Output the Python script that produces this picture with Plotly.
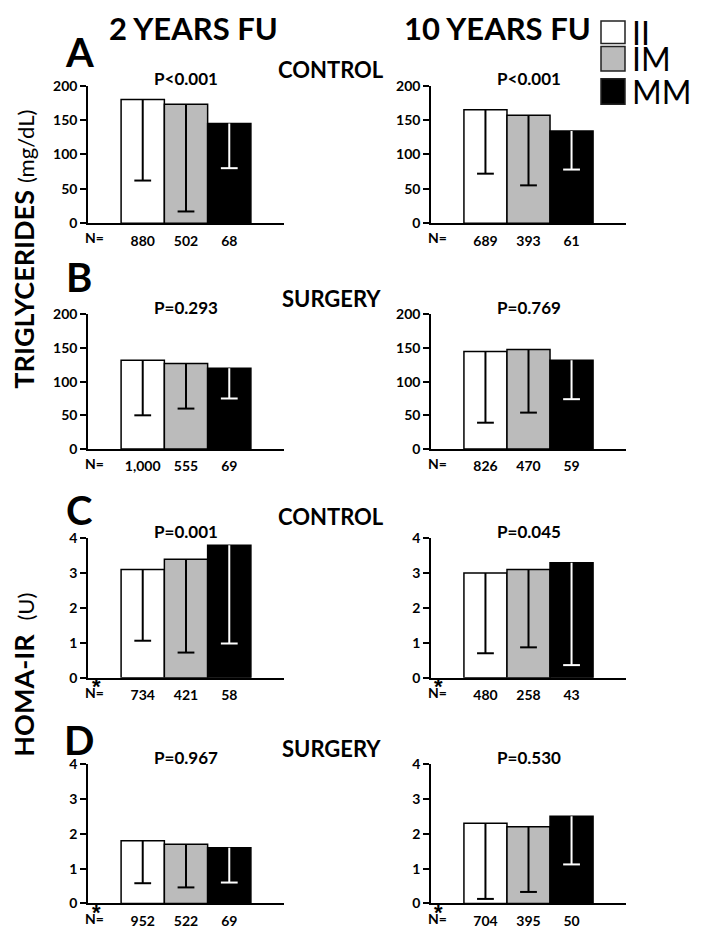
import plotly.graph_objects as go

# ---------------- data ----------------
groups = ["II", "IM", "MM"]

tg_2y_control_mean = [180, 173, 145]
tg_2y_control_low = [62, 17, 80]
tg_2y_control_n = ["880", "502", "68"]
tg_2y_control_p = "P<0.001"

tg_10y_control_mean = [165, 157, 134]
tg_10y_control_low = [72, 55, 78]
tg_10y_control_n = ["689", "393", "61"]
tg_10y_control_p = "P<0.001"

tg_2y_surgery_mean = [132, 127, 120]
tg_2y_surgery_low = [50, 60, 75]
tg_2y_surgery_n = ["1,000", "555", "69"]
tg_2y_surgery_p = "P=0.293"

tg_10y_surgery_mean = [145, 148, 132]
tg_10y_surgery_low = [39, 54, 74]
tg_10y_surgery_n = ["826", "470", "59"]
tg_10y_surgery_p = "P=0.769"

homa_2y_control_mean = [3.1, 3.4, 3.8]
homa_2y_control_low = [1.06, 0.72, 0.98]
homa_2y_control_n = ["734", "421", "58"]
homa_2y_control_p = "P=0.001"

homa_10y_control_mean = [3.0, 3.1, 3.3]
homa_10y_control_low = [0.70, 0.87, 0.36]
homa_10y_control_n = ["480", "258", "43"]
homa_10y_control_p = "P=0.045"

homa_2y_surgery_mean = [1.8, 1.7, 1.6]
homa_2y_surgery_low = [0.58, 0.46, 0.60]
homa_2y_surgery_n = ["952", "522", "69"]
homa_2y_surgery_p = "P=0.967"

homa_10y_surgery_mean = [2.3, 2.2, 2.5]
homa_10y_surgery_low = [0.13, 0.33, 1.12]
homa_10y_surgery_n = ["704", "395", "50"]
homa_10y_surgery_p = "P=0.530"

tg_ticks = [0, 50, 100, 150, 200]
homa_ticks = [0, 1, 2, 3, 4]

# ---------------- styling ----------------
OFF = 8  # page body margin
W, H = 704 - OFF, 935 - OFF
FONT = "Lato"
bar_colors = ["#FFFFFF", "#BBBBBB", "#000000"]
err_colors = ["#000000", "#000000", "#FFFFFF"]


def px_x(x):
    return (x - OFF) / W


def px_y(y):
    return 1 - (y - OFF) / H


LEFT = (88, 284)
RIGHT = (431, 626)
ROWS = {"A": (78, 218), "B": (311, 448), "C": (539, 681), "D": (769, 911)}

panels = [
    ("A", LEFT, tg_2y_control_mean, tg_2y_control_low, tg_2y_control_n, tg_2y_control_p, tg_ticks, False),
    ("A", RIGHT, tg_10y_control_mean, tg_10y_control_low, tg_10y_control_n, tg_10y_control_p, tg_ticks, False),
    ("B", LEFT, tg_2y_surgery_mean, tg_2y_surgery_low, tg_2y_surgery_n, tg_2y_surgery_p, tg_ticks, False),
    ("B", RIGHT, tg_10y_surgery_mean, tg_10y_surgery_low, tg_10y_surgery_n, tg_10y_surgery_p, tg_ticks, False),
    ("C", LEFT, homa_2y_control_mean, homa_2y_control_low, homa_2y_control_n, homa_2y_control_p, homa_ticks, True),
    ("C", RIGHT, homa_10y_control_mean, homa_10y_control_low, homa_10y_control_n, homa_10y_control_p, homa_ticks, True),
    ("D", LEFT, homa_2y_surgery_mean, homa_2y_surgery_low, homa_2y_surgery_n, homa_2y_surgery_p, homa_ticks, True),
    ("D", RIGHT, homa_10y_surgery_mean, homa_10y_surgery_low, homa_10y_surgery_n, homa_10y_surgery_p, homa_ticks, True),
]

fig = go.Figure()
layout = dict(
    width=W, height=H, margin=dict(l=0, r=0, t=0, b=0),
    paper_bgcolor="white", plot_bgcolor="white", showlegend=False,
    font=dict(family=FONT, color="black"),
)
annotations = []
shapes = []

xpos = list(range(len(groups)))

for k, (row, (x0, x1), mean, low, n, p, ticks, star) in enumerate(panels):
    idx = "" if k == 0 else str(k + 1)
    xa, ya = "x" + idx, "y" + idx
    ytop, ybot = ROWS[row]
    layout["xaxis" + idx] = dict(
        domain=[px_x(x0), px_x(x1)], anchor=ya, range=[-1.265, 3.265],
        showgrid=False, zeroline=False, showline=True, linecolor="black", linewidth=1.5,
        tickmode="array", tickvals=xpos, ticktext=n,
        ticks="outside", ticklen=4, tickcolor="rgba(0,0,0,0)",
        tickfont=dict(family=FONT, size=14, color="black", weight="bold"),
    )
    layout["yaxis" + idx] = dict(
        domain=[px_y(ybot), px_y(ytop)], anchor=xa, range=[ticks[0], ticks[-1]],
        tickmode="array", tickvals=ticks,
        showgrid=False, zeroline=False, showline=True, linecolor="black", linewidth=1.5,
        ticks="outside", ticklen=6, tickwidth=1.5, tickcolor="black",
        tickfont=dict(family=FONT, size=14, color="black", weight="bold"),
    )
    fig.add_trace(go.Bar(
        x=xpos, y=mean, width=1, xaxis=xa, yaxis=ya,
        marker=dict(color=bar_colors, line=dict(color="black", width=1.5)),
        hoverinfo="skip",
    ))
    for i in xpos:
        fig.add_trace(go.Scatter(
            x=[i], y=[low[i]], xaxis=xa, yaxis=ya, mode="markers",
            marker=dict(symbol="line-ew", size=12, color=err_colors[i],
                        line=dict(width=2, color=err_colors[i])),
            error_y=dict(type="data", symmetric=False, array=[mean[i] - low[i]],
                         arrayminus=[0], width=0, thickness=2, color=err_colors[i]),
            hoverinfo="skip", cliponaxis=False,
        ))
    # P value above bars
    annotations.append(dict(
        text=p, xref=xa, x=1, yref="paper", y=px_y(ytop - 7),
        showarrow=False, xanchor="center", yanchor="middle",
        font=dict(family=FONT, size=17, color="black", weight="bold"),
    ))
    # N= label
    annotations.append(dict(
        text="N=", xref="paper", x=px_x(x0 + 6), yref="paper", y=px_y(ybot + 15),
        showarrow=False, xanchor="center", yanchor="middle",
        font=dict(family=FONT, size=14, color="black", weight="bold"),
    ))
    if star:
        annotations.append(dict(
            text="<b>*</b>", xref="paper", x=px_x(x0 + 8), yref="paper", y=px_y(ybot + 9),
            showarrow=False, xanchor="center", yanchor="middle",
            font=dict(family="Liberation Sans", size=22, color="#000000"),
        ))

# panel letters and group titles
letters = {"A": 44, "B": 273, "C": 510, "D": 745}
titles = {"A": ("CONTROL", 61), "B": ("SURGERY", 295), "C": ("CONTROL", 517), "D": ("SURGERY", 753)}
for r, yl in letters.items():
    annotations.append(dict(
        text=r, xref="paper", x=px_x(79), yref="paper", y=px_y(yl),
        showarrow=False, xanchor="center", yanchor="middle",
        font=dict(family=FONT, size=40, color="black", weight="bold"),
    ))
    t, yt = titles[r]
    annotations.append(dict(
        text=t, xref="paper", x=px_x(331), yref="paper", y=px_y(yt),
        showarrow=False, xanchor="center", yanchor="middle",
        font=dict(family=FONT, size=22, color="black", weight="bold"),
    ))

# column headers
for t, xc in [("2 YEARS FU", 193), ("10 YEARS FU", 498)]:
    annotations.append(dict(
        text=t, xref="paper", x=px_x(xc), yref="paper", y=px_y(19),
        showarrow=False, xanchor="center", yanchor="middle",
        font=dict(family=FONT, size=31, color="black", weight="bold"),
    ))

# y titles
annotations.append(dict(
    text="<b>TRIGLYCERIDES</b> <span style='font-size:22px'>(mg/dL)</span>",
    xref="paper", x=px_x(24), yref="paper", y=px_y(245), textangle=-90,
    showarrow=False, xanchor="center", yanchor="middle",
    font=dict(family=FONT, size=27, color="black"),
))
annotations.append(dict(
    text="<b>HOMA-IR</b>  <span style='font-size:22px'>(U)</span>",
    xref="paper", x=px_x(24), yref="paper", y=px_y(678), textangle=-90,
    showarrow=False, xanchor="center", yanchor="middle",
    font=dict(family=FONT, size=27, color="black"),
))

# legend
legend_rows = [(12, 35), (38, 63), (71, 97)]
for g, col, (ya0, ya1) in zip(groups, bar_colors, legend_rows):
    shapes.append(dict(
        type="rect", xref="paper", yref="paper",
        x0=px_x(601), x1=px_x(625), y0=px_y(ya1), y1=px_y(ya0),
        fillcolor=col, line=dict(color="#222222", width=1.5),
    ))
    annotations.append(dict(
        text=g, xref="paper", x=px_x(630), yref="paper", y=px_y((ya0 + ya1) / 2),
        showarrow=False, xanchor="left", yanchor="middle",
        font=dict(family=FONT, size=32, color="black"),
    ))

layout["annotations"] = annotations
layout["shapes"] = shapes
fig.update_layout(**layout)
fig.write_html("out.html")
